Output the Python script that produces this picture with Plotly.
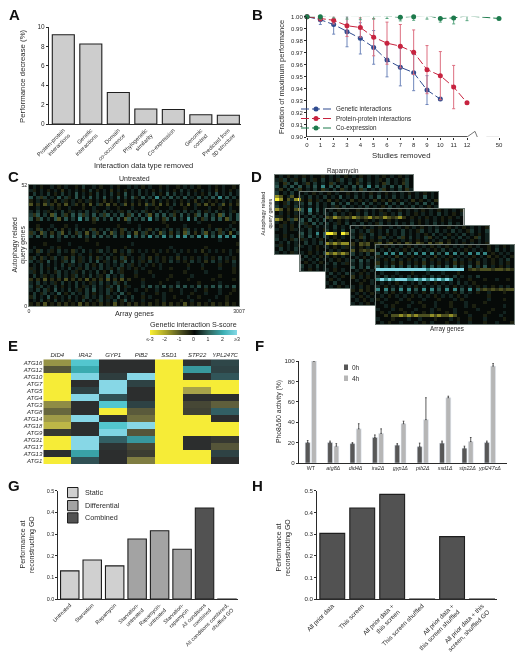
import plotly.graph_objects as go

W, H = 523, 658
FONT = "Liberation Sans"
INK = "#2a2a2a"

# ---------- Panel A
a_labels = ["Protein-protein<br>interactions", "Genetic<br>interactions", "Domain<br>co-occurrence",
            "Phylogenetic<br>similarity", "Co-expression", "Genomic<br>context", "Predicted from<br>3D structure"]
a_values = [9.2, 8.25, 3.25, 1.55, 1.5, 0.95, 0.9]

# ---------- Panel B
b_ticks = [0, 1, 2, 3, 4, 5, 6, 7, 8, 9, 10, 11, 12, 14.4]
b_ticktext = ["0", "1", "2", "3", "4", "5", "6", "7", "8", "9", "10", "11", "12", "50"]
gen_x = [0, 1, 2, 3, 4, 5, 6, 7, 8, 9, 10]
gen_y = [1.0, 0.9975, 0.9935, 0.9875, 0.982, 0.9745, 0.964, 0.958, 0.9535, 0.939, 0.9315]
gen_e = [0, 0.004, 0.008, 0.0125, 0.013, 0.014, 0.014, 0.0155, 0.015, 0.012, 0.001]
ppi_x = [0, 1, 2, 3, 4, 5, 6, 7, 8, 9, 10, 11, 12]
ppi_y = [1.0, 0.9985, 0.997, 0.9925, 0.991, 0.983, 0.978, 0.9755, 0.9705, 0.956, 0.951, 0.9415, 0.9285]
ppi_e = [0, 0.002, 0.003, 0.009, 0.008, 0.0155, 0.0175, 0.018, 0.0185, 0.02, 0.02, 0.018, 0.001]
coe_x = [0, 1, 2, 3, 4, 5, 6, 7, 8, 9, 10, 11, 12, 14.4]
coe_y = [1.0, 1.0, 1.001, 1.001, 1.0005, 1.001, 1.0005, 0.9995, 1.0, 1.001, 0.9985, 0.999, 1.0007, 0.9985]
coe_e = [0, 0.002, 0.002, 0.003, 0.003, 0.003, 0.002, 0.003, 0.003, 0.003, 0.003, 0.005, 0.004, 0]
axis_x = [0, 12]
axis_y = [0.9, 0.9]
break_x = [12, 12.6, 12.97, 13.47, 14.4]
break_y = [0.9, 0.9047, 0.8945, 0.8997, 0.8997]

# ---------- Panel C (coarse reading of the map: '.'=0, 1-5 rising teal, a-e rising olive/yellow)
c_rows = [
 ".1.a..1.a.1..a.2..1.a..1.a..1.1.a.1..a.1..a.1.1.a..1.a.1..a.1",
 "1a.1.a.1.b.1.1.a.2.a.1.b.1.a.1.2.1.a.1.1.a.2.1.a.1.1.b.1.a.1.",
 ".2.1.2.a.2.1.3.1.a.2.1.2.a.3.1.2.1.2.a.3.2.1.2.1.a.2.3.1.2.1a",
 "3.2b2.1.3.2a.3.2.3.2.3.1.3.2.3a.3.2.4.2.3.2.3.1.3.2.3.4.3.2.3",
 "a.1.a1.b.1a.1.a.1a.1.b.a.1.a.1.a.1.b.1.a.1.a.1.b.1.a.a.1.1.a.",
 "c.b.c1b.b.c.1b.b.c.2b.c.b.1c.b.b.c1b.c.b.2.b.c.1b.c.b.1c.b.b.",
 "..1...1.a..1...a..1...1..a...1...1..a...1...a..1...1..a..1...",
 "1.2.1a.1.2.a1.1.2.1a.2.1.1a.2.1.2a.1.2.1.a1.2.1.2.a1.2.1.1a.2",
 "2b3.2.c3.2b.3.3b2.3.2b3.2.3.b3.3.2c.3.3.2b.3.2.b3.3.2.c3.2.3b",
 "3.b3.2.3c.3.2.4.3.b3.2.3.3.c3.2.3.4.2.b3.3.2.4.3.b2.3.3.c2.3.",
 "..................a.........1.........a.........1.........a...",
 "..a...1...a..1...........a.....1.......a....1......a.....1....",
 "1.b2.1.2.b.1.2.1.2b.1.2.1.b2.1.2.1b.2.1.2.1.b2.1.2.1.2b.1.2.1",
 "b2.c2.b.2c.2.b2.c.2b.3.c2.b.2.c.2b.2.c2.b.2.c3.b.2c.2.b2.c.2b",
 "2.3.2.3.2.3.2.3.2.3.3.2.3.2.4.3.3.4.3.4.3.4.4.3.4.4.3.4.4.4.3",
 "........1.......a.....................................1......",
 "....a......1.......a.........1.............................a.",
 ".1....1.a.....1.......1....a............1.........a..........",
 "1.b2.1a.2.1.b1.2.1.a2.1.b.1.2a.1.1.a.1.a.1.1.a.1.b.1.1.a.1.a.",
 "..1..a..1...a.1..a...1.1..a.1...1...a.....1.......a......1...",
 "a2.b1.a2.1b.2.a1.2.b1.2.a.2b.1.a1.b.1.a.1.b.1.a.1.1.a.2.1.a.b",
 "2.1a.3.1.a2.3.a1.2.3.a1.2.a3.2.1a.2.1.a.2.1.a.2.1.b.2.1.a.2.1",
 ".1.2.1.1.2.a1.1.2.a.2.1.1.2.1a.1.1.a.1.......a...1....a...1..",
 "a1.2.a.2.1.2.1a.2.1.2.1a.2a.1.a.1....1..a....1...a....1...a..",
 "1a.2.1.a2.1.1a.2.1.2.a.3.1a...1...a.........a.....1.......a..",
 ".2.1a.1.2.1.a2.1.2.1a.3.1.2...a....1....a.....1.......a......",
 "b.b.c.b.b.c.b.b.c.b.b.c.b.c.b...a......a.....a......a.....a..",
 "1.2.1.1a.2.1.2.1.a1.2.1.2a.2....1....a....1.....a.....1......",
 "2.a2.1.2.a.1.2.a1.2.1.a2.3.a1...2.3.2.3.2.3.3.2.3.2.3.3.2.3.2",
 "1.2.2a.3.1.2.1a.2.3.1.2a.3.1..1..a..1...a..1...1..a...1...a..",
 ".2.a2.1.3.a.2.1.2.a.1.2.1.3.a...1...a.1....1..a...1...1..a...",
 "a2.1.3.a.1.2.1.a2.1.2.a1.3.1.2..a.1...1..a...1..a....1..a...1",
 ".1.2.a.2.1.a.1.2.1.a2.1.2.a3.1..1...a.1....a..1....1....a...1",
 "a.b.c.a.b.b.a.c.b.a.b.a.c.a.b.b.a.b.a.b.b.a.c.a.b.a.b.a.b.a.b",
]

# ---------- Panel D: five stacked maps, only what stays visible behind the next map is read
d1_rows = [
 ".1.a.1.a.1..a.1.1.a.1.a.1.1.a.1.a.1.",
 "1a2.1a.2.1a.2.1.a2.1.a2.1.1a.2.1.a2.",
 "2.b2.3.1b.2.1.b2.1.2.b1.2.1.b2.1.b2.",
 "3.2.3.3.2.3.4.3.3.2.3.3.4.3.2.3.3.2.",
 "1b.2.2b.1.2.b1.2.b1.2.b2.1.2b.1.2.b1",
 "2.1.2.1.2.1.2.1.3.2.1.2.1.2.1.2.1.2.",
 "dc.1c.b",
 "ed.c1de",
 "1.a2.1a",
 "2.1a.2.",
 "dc.b.cd",
 ".1.a.1.",
 "1a.1.a.",
 "dc.b2c.",
 "1.a.1.1",
 ".a1.a.2",
 "1.1.a1.",
 "..1...1",
 "1.a.1.a",
 "2.1.a2.",
 ".1.2.1.",
 "1a.1.1a",
 ".2.1.2.",
 "1.1.a1.",
]
d2_rows = [
 ".1.a.1.a.1..a.1.1.a.1.a.1.1.a.1.a.1.",
 "1.2.1.2.1.3.1.2.1.2.3.1.2.1.2.1.3.1.",
 "a.b.a1.b.a.1.b.a.1.b.a.b.a.1.b.a.1.b",
 "2.3.2.1.3.2.3.1.3.2.1.3.2.3.1.2.3.2.",
 "1.1.2.1.1a.2.1.1.2.1.a.2.1.1.2.1.a.1",
 "3.4.3.2.3.4.2.3.4.3.2.3.4.3.2.3.4.3.",
 "2.3.1.2",
 ".1.2.1.",
 "3.3.2.3",
 "2a.3.2.",
 ".1a.2.1",
 "1.2.1.a",
 "3.2.4.3",
 "2.3.2.3",
 "a1.1.a.",
 ".2.1.2.",
 "1.1.a.1",
 "..1.a..",
 "1.a.1.2",
 ".2.1.a.",
 "1.1.2.1",
 ".a.1.a.",
 "2.1.2.1",
 "1.a.1.1",
]
d3_rows = [
 ".1.a.1..a.1.1.a.1..a.1.1.a.1.a.1.1.a",
 "1.2.1.a.1.2.1.1a.1.2.1.a.1.1.2.1.a.1",
 "cbdcbcbdcbcdbcbdcbcdb.a.1.a.1.a.a.1.",
 ".1.a.1..1.a.1.1.a.1...1.a.1.1.a.1...",
 "2.1a.2.1.2.1.a2.1.2.1.2.a.1.2.1.2.1.",
 "1.2.1.2.1a.2.1.2.1.2a.1.2.1.2.1a.2.1",
 "2.1.2.",
 "eed.ed",
 "1.a.1.",
 ".1.a..",
 "dcdcdd",
 "1.a.1a",
 ".1.1..",
 "dcdcdc",
 "1.a.1.",
 ".1.a.1",
 "1.2.1a",
 "..1...",
 "1.a.1.",
 ".2.1.2",
 "1.1.a.",
 ".a.1..",
 "1.2.1.",
 ".1.a.1",
]
d4_rows = [
 ".1.a.1.a..1.1.a.1.a.1.1..a.1.a.1.1.a",
 "2.1.2a.1.2.1.2.1.a2.1.2.1.2.1.a2.1.2",
 "1.a1.2.1.a.1.2.1.1.a.2.1.a.1.2.1.a.1",
 "2.b2.1.b2.1.2b.2.1.2b.1.2.1.2.1.b2.1",
 ".1.1.a.1.1.a.1.1.a.1.1.1.a.1.1.a.1.1",
 "b.cbc.bc.bc.b.cb.cb.c.bc.b.1.a.1.1.a",
 "1.a.1.1",
 "c.bcbcb",
 "2.1.2.1",
 ".1.a.1.",
 "2.3.2.1",
 "1.2.1.a",
 "3.2.3.2",
 ".1.a.1.",
 "1.a.1.1",
 "b.1.a.1",
 ".1.a.1.",
 "..a..1.",
 "1.1.a.1",
 "a.b.a.1",
 ".1.1.a.",
 "1.a.1.1",
 ".1.a.1.",
 "1.1.a.1",
]
d5_rows = [
 "1.a.1.1.a.1.1.a.1.a.1.1.a.1..a.1.a.1",
 ".1.2.1.a.2.1.1.a.2.1.1.a.1.1.a.2.1.1",
 "3.4.4.4.3.4.4.4.3.4.4.3.4.4.4.a.1.1.",
 "a1.1.b.1.a.1.1.b.1.a.1.1.a.1.b.a.1.a",
 "1.a.2.1.a.1.2.a.1.a.2.1.a.1.1.a.1.2.",
 "b.1.a.b.1.a.b.1.a.1.b.a.1.b.1.a.1.a.",
 "3.2.3.2.3.2.3.3.2.3.3.2.3.2.3.1.a.1.",
 "55555555555554555555555.bcbcccbccbcbc",
 ".1...1...a...1...1...a..............",
 "1.2.1.1.2.1.1.2.1.1.2.1.1.2.........",
 "45454555445454545454.1..a...a..1..a.",
 ".1.1.a.1.1.2.1.a.1.1.2.1.a..........",
 "1.a.1.2.1.a.1.1.2.1.a.1.1.a.1.a.1.1.",
 "4.4.3.4.4.3.4.4.3.4.4.3.4.3bcbcbcbcc",
 "1.2.a.1.2.1.a.2.1.1.a.2.1.a..1...a..",
 ".1.a.1.1.a.1.1.a.1.1.a.1.....a......",
 "a.1...1.a...1...a...1.a......1...a..",
 ".1...a...1.a...1...a...1....a.......",
 "..1.a...1...a..1...a...1.a.......1..",
 "1...1.a...1...1.a...1.....1...a.....",
 ".a.1...a.1..a.1...a.1..a.....a...1..",
 "..b.ccdcdcdcccdcdccdc...1...a...1...",
 "1...a...1..1...a...1.a..a...1....a..",
 ".1.a..1...1.a.1...a..1..1...a..1...a",
]

# ---------- Panel E
e_cols = ["DID4", "IRA2", "GYP1", "PIB2", "SSD1", "STP22", "YPL247C"]
e_rows = ["ATG16", "ATG12", "ATG10", "ATG7", "ATG5", "ATG4", "ATG3", "ATG8",
          "ATG14", "ATG18", "ATG9", "ATG31", "ATG17", "ATG13", "ATG1"]
e_z = [
 [-1.7, 2.3, 0, 0, -3, 0.1, 0.5],
 [-0.8, 1.8, 0, 0, -3, 1.6, 0.4],
 [-3, 2.9, 0.3, 3, -3, 0, 0.8],
 [-3, 0, 3, 0.4, -3, -3, -3],
 [-3, 0.4, 3, 0, -3, -1.9, -3],
 [-3, 3, 0.7, 0, -3, 0, 0],
 [-1.6, 0, 2.3, 0.4, -3, -0.5, -1],
 [-1.1, 0, -3, -0.9, -3, -0.4, 1],
 [-1.8, 3, 0, -1.2, -3, -3, 0],
 [-2.2, 0, 2.3, 3, -3, -3, -3],
 [-0.2, 0, 2.9, -0.8, -3, -3, -3],
 [-3, 3, 1, 1.6, -3, 0, -0.2],
 [-3, 3, 0.1, -0.5, -3, 0, -0.8],
 [0, 1.7, 0, -0.3, -3, -3, 0.4],
 [-3, 0.7, 0, -1.4, -3, -3, 0],
]
cbar_vals = [-3, -2, -1, 0, 1, 2, 3]
cbar_text = ["≤-3", "-2", "-1", "0", "1", "2", "≥3"]

# ---------- Panel F
f_labels = ["WT", "<i>atg8Δ</i>", "<i>did4Δ</i>", "<i>ira2Δ</i>", "<i>gyp1Δ</i>", "<i>pib2Δ</i>",
            "<i>ssd1Δ</i>", "<i>stp22Δ</i>", "<i>ypl247cΔ</i>"]
f_0h = [20, 20, 19, 25, 17.5, 16, 19.5, 14.5, 20]
f_0h_err = [2, 1.5, 1, 2.5, 1.5, 3.5, 2, 2, 1.5]
f_4h = [100, 16.5, 33.5, 29, 38.5, 42.5, 64, 21, 95]
f_4h_err = [0, 2.5, 5, 4.5, 2.5, 21.5, 1.5, 4, 2.5]

# ---------- Panels G, H
g_labels = ["Untreated", "Starvation", "Rapamycin", "Starvation-<br>untreated", "Rapamycin-<br>untreated",
            "Starvation-<br>rapamycin", "All conditions<br>combined", "All conditions combined,<br>shuffled GO"]
g_static = [0.13, 0.18, 0.153]
g_diff = [0.277, 0.315, 0.23]
g_comb = [0.42, -0.003]
h_labels = ["All prior data", "This screen", "All prior data +<br>this screen", "This screen shuffled",
            "All prior data +<br>this screen shuffled", "All prior data + this<br>screen, shuffled GO"]
h_values = [0.303, 0.42, 0.483, -0.005, 0.288, -0.005]

# ---------- helpers
CODE = {".": 0, "1": 0.28, "2": 0.5, "3": 0.78, "4": 1.45, "5": 2.9,
        "a": -0.28, "b": -0.5, "c": -0.9, "d": -1.7, "e": -3.0}
SCALE = [[0, "rgb(248,238,50)"], [1/6, "rgb(170,165,40)"], [2/6, "rgb(85,88,35)"], [0.5, "rgb(6,10,8)"],
         [4/6, "rgb(48,100,92)"], [5/6, "rgb(60,175,180)"], [1, "rgb(135,218,232)"]]
SCALE_E = [[0, "rgb(246,236,55)"], [1/6, "rgb(175,170,75)"], [2/6, "rgb(95,95,60)"], [0.5, "rgb(44,46,46)"],
           [4/6, "rgb(50,95,100)"], [5/6, "rgb(60,190,195)"], [1, "rgb(135,215,230)"]]


def decode(rows, width):
    return [[CODE[c] for c in r.ljust(width, ".")[:width]] for r in rows]


fig = go.Figure()
axes = {}


def ax(n, l, t, r, b, xkw, ykw):
    s = "" if n == 1 else str(n)
    axes["xaxis" + s] = dict(domain=[l / W, r / W], anchor="y" + s, **xkw)
    axes["yaxis" + s] = dict(domain=[1 - b / H, 1 - t / H], anchor="x" + s, **ykw)
    return ("x" + s, "y" + s)


def val_axis(rng, ticks, size=6.5, fmt=None):
    return dict(range=rng, tickvals=ticks, showline=True, linecolor=INK, linewidth=1, ticks="outside",
                ticklen=2, tickwidth=1, tickcolor=INK, showgrid=False, zeroline=False,
                tickfont=dict(size=size, family=FONT, color=INK), tickformat=fmt)


def cat_axis(rng, ticks, text, size=6, angle=-45):
    return dict(range=rng, tickvals=ticks, ticktext=text, showline=True, linecolor=INK, linewidth=1, ticks="",
                showgrid=False, zeroline=False, tickangle=angle,
                tickfont=dict(size=size, family=FONT, color=INK))


notes = []


def T(text, x, y, size=7.5, angle=0, bold=False, xanchor="center"):
    notes.append(dict(text=f"<b>{text}</b>" if bold else text, x=x / W, y=1 - y / H, xref="paper", yref="paper",
                      showarrow=False, xanchor=xanchor, yanchor="middle", textangle=angle,
                      font=dict(size=size, family=FONT, color="#111" if bold else INK)))


shapes = []


def box(x0, y0, x1, y1, fill, line="#222", lw=1):
    shapes.append(dict(type="rect", xref="paper", yref="paper", x0=x0 / W, x1=x1 / W, y0=1 - y0 / H, y1=1 - y1 / H,
                       fillcolor=fill, line=dict(color=line, width=lw)))


BAR_LINE = dict(color="#1e1e1e", width=1.1)

# A
xa, ya = ax(1, 49, 27, 241, 124,
            cat_axis([-0.52, 6.46], list(range(7)), a_labels, 5.6), val_axis([0, 10], [0, 2, 4, 6, 8, 10], 6.5))
fig.add_bar(x=list(range(7)), y=a_values, width=0.8, marker=dict(color="#cdcdcd", line=BAR_LINE),
            xaxis=xa, yaxis=ya, showlegend=False, cliponaxis=False)
T("A", 14, 14, 15, bold=True)
T("Performance decrease (%)", 23, 76, 7.8, -90)
T("Interaction data type removed", 143, 165, 7.5)

# B
xkw = dict(range=[0, 14.4], tickvals=b_ticks, ticktext=b_ticktext, showline=False, ticks="outside", ticklen=2,
           tickcolor=INK, showgrid=False, zeroline=False, tickfont=dict(size=6, family=FONT, color=INK))
xb, yb = ax(2, 307, 16.7, 499, 137, xkw,
            val_axis([0.9, 1.0], [0.9, 0.91, 0.92, 0.93, 0.94, 0.95, 0.96, 0.97, 0.98, 0.99, 1.0], 6, ".2f"))
fig.add_scatter(x=axis_x, y=axis_y, mode="lines", line=dict(color="#555", width=2), xaxis=xb, yaxis=yb,
                showlegend=False, hoverinfo="skip", cliponaxis=False)
fig.add_scatter(x=break_x, y=break_y, mode="lines", line=dict(color="#555", width=0.8), xaxis=xb, yaxis=yb,
                showlegend=False, hoverinfo="skip", cliponaxis=False)
for name, xs, ys, es, col, ebar, leg in [
    ("Genetic interactions", gen_x, gen_y, gen_e, "#2f4b8f", "#6f86bb", "legend"),
    ("Protein-protein interactions", ppi_x, ppi_y, ppi_e, "#c7233f", "#dd6f80", "legend2"),
    ("Co-expression", coe_x, coe_y, coe_e, "#1d7a4c", "#5aa680", "legend3"),
]:
    fig.add_scatter(x=xs, y=ys, name=name, mode="lines+markers", xaxis=xb, yaxis=yb, cliponaxis=False, legend=leg,
                    line=dict(color=col, width=1, dash="8px,3px"), marker=dict(size=5, color=col),
                    error_y=dict(type="data", array=es, visible=True, color=ebar, thickness=1, width=1.5))
T("B", 257, 14, 15, bold=True)
T("Fraction of maximum performance", 281, 77, 7.5, -90)
T("Studies removed", 402, 156, 7.8)

# C
c_w = 60
xc, yc = ax(3, 29, 185, 239, 306,
            dict(range=[-0.5, c_w - 0.5], tickvals=[-0.5, c_w - 0.5], ticktext=["0", "3007"], ticks="", showline=True,
                 mirror=True, linecolor="#7d8883", linewidth=0.5, showgrid=False, zeroline=False,
                 tickfont=dict(size=5.2, family=FONT, color=INK)),
            dict(range=[len(c_rows) - 0.5, -0.5], tickvals=[-0.5, len(c_rows) - 0.5], ticktext=["52", "0"], ticks="",
                 showline=True, mirror=True, linecolor="#7d8883", linewidth=0.5, showgrid=False, zeroline=False,
                 tickfont=dict(size=5.2, family=FONT, color=INK)))
fig.add_heatmap(z=decode(c_rows, c_w), zmin=-3, zmax=3, colorscale=SCALE, showscale=False,
                xaxis=xc, yaxis=yc)
T("C", 13, 176, 15, bold=True)
T("Untreated", 134, 179, 7)
T("Autophagy related<br>query genes", 18.5, 245, 6.8, -90)
T("Array genes", 134, 313, 7.2)
T("Genetic interaction S-score", 193, 324, 7.2)

# colour key
xk, yk = ax(4, 150, 330, 237, 335,
            dict(range=[-3, 3], tickvals=cbar_vals, ticktext=cbar_text, ticks="", showline=False, showgrid=False,
                 zeroline=False, tickfont=dict(size=5.2, family=FONT, color=INK)),
            dict(visible=False, range=[-0.5, 0.5]))
fig.add_heatmap(z=[cbar_vals], x=cbar_vals, zmin=-3, zmax=3, colorscale=SCALE, showscale=False, zsmooth="best",
                xaxis=xk, yaxis=yk)

# D
d_w = 36
d_pos = [(275, 175), (300.3, 192), (325.6, 209), (351, 226), (376, 245)]
for i, (rows, (px, py)) in enumerate(zip([d1_rows, d2_rows, d3_rows, d4_rows, d5_rows], d_pos)):
    xd, yd = ax(5 + i, px, py, px + 138, py + 79,
                dict(range=[-0.5, d_w - 0.5], visible=True, showticklabels=False, ticks="", showline=True, mirror=True,
                     linecolor="#707c77", linewidth=0.5, showgrid=False, zeroline=False),
                dict(range=[len(rows) - 0.5, -0.5], visible=True, showticklabels=False, ticks="", showline=True,
                     mirror=True, linecolor="#707c77", linewidth=0.5, showgrid=False, zeroline=False))
    fig.add_heatmap(z=decode(rows, d_w), zmin=-3, zmax=3, colorscale=SCALE, showscale=False,
                    xaxis=xd, yaxis=yd)
T("D", 256, 176, 15, bold=True)
T("Rapamycin", 343, 171, 6.3)
T("Autophagy related<br>query genes", 265.5, 214, 5.4, -90)
T("Array genes", 447, 329, 6.3)

# E
xe, ye = ax(10, 43.3, 359.3, 239, 464,
            dict(range=[-0.5, 6.5], tickvals=list(range(7)), ticktext=[f"<i>{c}</i>" for c in e_cols], side="top",
                 ticks="", showline=False, showgrid=False, zeroline=False, tickfont=dict(size=6, family=FONT, color=INK)),
            dict(range=[14.5, -0.5], tickvals=list(range(15)), ticktext=[f"<i>{r}</i>" for r in e_rows], ticks="",
                 showline=False, showgrid=False, zeroline=False, tickfont=dict(size=6, family=FONT, color=INK)))
fig.add_heatmap(z=e_z, zmin=-3, zmax=3, colorscale=SCALE_E, showscale=False, xaxis=xe, yaxis=ye)
T("E", 13, 345, 15, bold=True)

# F
xf, yf = ax(11, 299, 361, 507, 463,
            cat_axis([-0.527, 8.76], list(range(9)), f_labels, 5.3, 0), val_axis([0, 100], [0, 20, 40, 60, 80, 100], 6.2))
fig.add_bar(x=list(range(9)), y=f_0h, name="0h", width=0.22, offset=-0.25, marker_color="#575757", xaxis=xf, yaxis=yf,
            showlegend=False, cliponaxis=False,
            error_y=dict(type="data", symmetric=False, array=f_0h_err, arrayminus=[0] * 9, color="#333", thickness=0.8, width=0.8))
fig.add_bar(x=list(range(9)), y=f_4h, name="4h", width=0.22, offset=0.03, marker_color="#b6b6b6", xaxis=xf, yaxis=yf,
            showlegend=False, cliponaxis=False,
            error_y=dict(type="data", symmetric=False, array=f_4h_err, arrayminus=[0] * 9, color="#333", thickness=0.8, width=0.8))
T("F", 259, 345, 15, bold=True)
T("Pho8Δ60 activity (%)", 279, 412, 6.8, -90)
box(344, 364.5, 348, 370, "#575757", "#575757", 0)
box(344, 375.5, 348, 381, "#b6b6b6", "#b6b6b6", 0)
T("0h", 349.5, 367.5, 6.5, xanchor="left")
T("4h", 349.5, 378.5, 6.5, xanchor="left")

# G
xg, yg = ax(12, 58.3, 490.7, 238, 599,
            cat_axis([-0.51, 7.49], list(range(8)), g_labels, 5.4), val_axis([0, 0.5], [0, 0.1, 0.2, 0.3, 0.4, 0.5], 5.4, ".1f"))
fig.add_bar(x=[0, 1, 2], y=g_static, name="Static", width=0.82, marker=dict(color="#d0d0d0", line=BAR_LINE),
            xaxis=xg, yaxis=yg, showlegend=False, cliponaxis=False)
fig.add_bar(x=[3, 4, 5], y=g_diff, name="Differential", width=0.82, marker=dict(color="#a3a3a3", line=BAR_LINE),
            xaxis=xg, yaxis=yg, showlegend=False, cliponaxis=False)
fig.add_bar(x=[6, 7], y=g_comb, name="Combined", width=0.82, marker=dict(color="#525252", line=BAR_LINE),
            xaxis=xg, yaxis=yg, showlegend=False, cliponaxis=False)
T("G", 14, 485, 15, bold=True)
T("Performance at<br>reconstructing GO", 27, 545, 7, -90)
for (label, fill, top) in [("Static", "#d0d0d0", 487.5), ("Differential", "#a3a3a3", 500.5), ("Combined", "#525252", 512.8)]:
    box(67.5, top, 78, top + 10.2, fill, "#1e1e1e", 1)
    T(label, 83, top + 5, 7.2, xanchor="left")

# H
xh, yh = ax(13, 317.3, 490.7, 497, 599,
            cat_axis([-0.5, 5.5], list(range(6)), h_labels, 6.3), val_axis([0, 0.5], [0, 0.1, 0.2, 0.3, 0.4, 0.5], 6.2, ".1f"))
fig.add_bar(x=list(range(6)), y=h_values, width=0.83, marker=dict(color="#525252", line=BAR_LINE),
            xaxis=xh, yaxis=yh, showlegend=False, cliponaxis=False)
T("H", 257, 485, 15, bold=True)
T("Performance at<br>reconstructing GO", 283, 548, 7, -90)


def leg(y):
    return dict(x=296 / W, y=1 - y / H, xanchor="left", yanchor="middle", bgcolor="rgba(0,0,0,0)", borderwidth=0,
                font=dict(size=6.3, family=FONT, color=INK), itemwidth=30)


fig.update_layout(
    width=W, height=H, autosize=False, margin=dict(l=0, r=0, t=0, b=0, pad=0, autoexpand=False),
    paper_bgcolor="white", plot_bgcolor="rgba(0,0,0,0)", barmode="overlay",
    font=dict(family=FONT, color=INK), annotations=notes, shapes=shapes,
    legend=leg(109), legend2=leg(118.5), legend3=leg(128),
    **axes,
)

fig.write_html("out.html", config=dict(displayModeBar=False),
               post_script="document.body.style.margin='0';document.documentElement.style.overflow='hidden';"
                           "document.querySelectorAll('.main-svg').forEach(function(s){s.style.willChange='transform';});"
                           "document.querySelectorAll('svg image').forEach(function(m,i){if(i!==7){m.style.filter='blur(0.55px)';}});")
